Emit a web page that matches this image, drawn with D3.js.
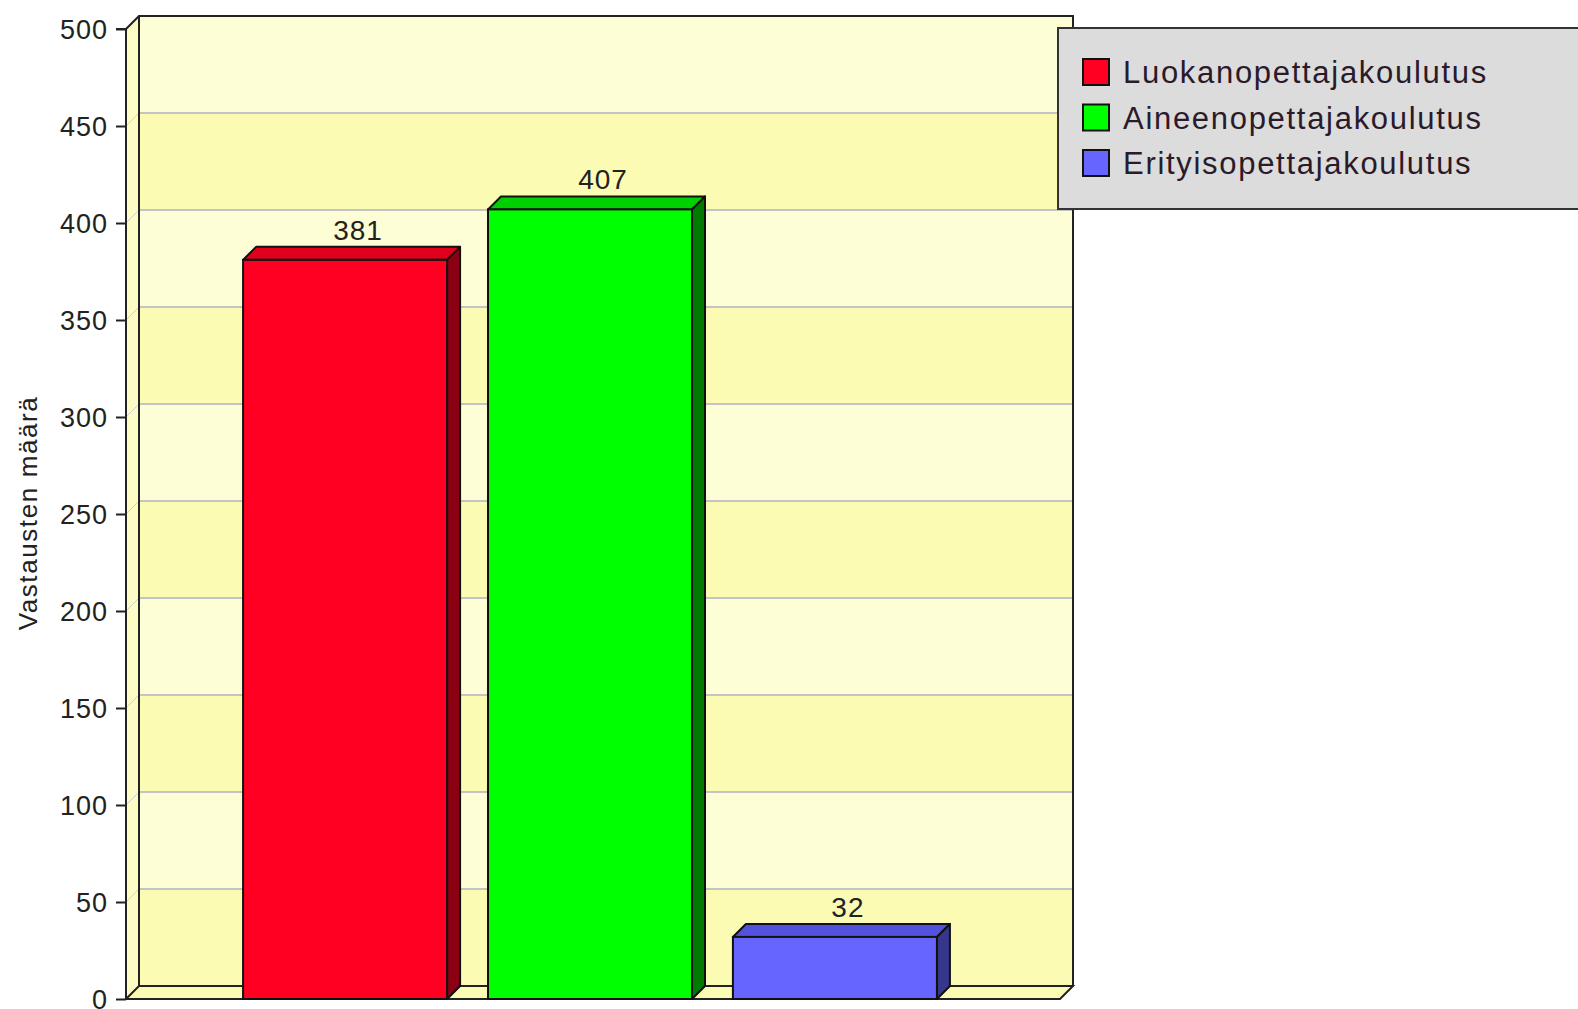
<!DOCTYPE html>
<html>
<head>
<meta charset="utf-8">
<script src="https://cdn.jsdelivr.net/npm/d3@7"></script>
<style>
html,body{margin:0;padding:0;background:#fff;}
svg{display:block;font-family:"Liberation Sans",Arial,sans-serif;}
</style>
</head>
<body>
<svg width="1578" height="1009"></svg>
<script>
(()=>{

//data
let series = ["Luokanopettajakoulutus","Aineenopettajakoulutus","Erityisopettajakoulutus"];
let values = [381, 407, 32];
let ticks = [0,50,100,150,200,250,300,350,400,450,500];
let yTitle = "Vastausten määrä";

//colors: front, top, side
let fronts = ["#ff0022","#00ff00","#6666ff"];
let tops = ["#e0001c","#00d000","#5252dc"];
let sides = ["#8c0014","#007a00","#36368c"];

let svg = d3.select("svg");

//3d depth
let dx = 13, dy = -13;

let y = d3.scaleLinear().domain([0,500]).range([999,29]);
let x = d3.scaleBand().domain(series).range([126,1054]).paddingInner(0.167).paddingOuter(0.478);
let x0 = 126, x1 = 1060;

//left wall
svg.append("path")
	.attr("d", `M${x0},${y(500)}L${x0+dx},${y(500)+dy}L${x0+dx},${y(0)+dy}L${x0},${y(0)}Z`)
	.attr("fill","#fcfcc4");

//back wall bands
let bands = d3.pairs(ticks);
svg.selectAll(".band")
	.data(bands)
	.enter().append("rect")
	.attr("class","band")
	.attr("x", x0+dx)
	.attr("y", d => y(d[1])+dy)
	.attr("width", x1-x0)
	.attr("height", d => y(d[0])-y(d[1]))
	.attr("fill", (d,i) => i%2==0 ? "#fbfbb4" : "#fdfdd6");

//floor
svg.append("path")
	.attr("d", `M${x0},${y(0)}L${x0+dx},${y(0)+dy}L${x1+dx},${y(0)+dy}L${x1},${y(0)}Z`)
	.attr("fill","#fbfbb4")
	.attr("stroke","#222")
	.attr("stroke-width",2);

//gridlines on back wall + diagonal on left wall
svg.selectAll(".grid")
	.data(ticks.slice(1,-1))
	.enter().append("line")
	.attr("class","grid")
	.attr("x1", x0+dx).attr("x2", x1+dx)
	.attr("y1", d => y(d)+dy).attr("y2", d => y(d)+dy)
	.attr("stroke","#c4c4c4").attr("stroke-width",2);
svg.selectAll(".diag")
	.data(ticks.slice(1,-1))
	.enter().append("line")
	.attr("class","diag")
	.attr("x1", x0).attr("x2", x0+dx)
	.attr("y1", d => y(d)).attr("y2", d => y(d)+dy)
	.attr("stroke","#d0d0d0").attr("stroke-width",1);

//wall outlines
svg.append("path")
	.attr("d", `M${x0},${y(500)}L${x0+dx},${y(500)+dy}L${x1+dx},${y(500)+dy}L${x1+dx},${y(0)+dy}`)
	.attr("fill","none").attr("stroke","#222").attr("stroke-width",2);
svg.append("line")
	.attr("x1",x0+dx).attr("x2",x0+dx).attr("y1",y(500)+dy).attr("y2",y(0)+dy)
	.attr("stroke","#222").attr("stroke-width",2);

//y axis
let axis = svg.append("g")
	.attr("transform",`translate(${x0},0)`)
	.call(d3.axisLeft(y).tickValues(ticks).tickSize(10).tickPadding(8));
axis.select(".domain").attr("stroke","#222").attr("stroke-width",2).attr("d",`M-10,${y(500)}H0V${y(0)}H${x1-x0}`);
axis.selectAll(".tick line").attr("stroke","#222").attr("stroke-width",2);
axis.selectAll(".tick text").attr("font-size",27).attr("fill","#222").attr("letter-spacing",1)
	.attr("font-family","'Liberation Sans',Arial,sans-serif").attr("dy","0.34em");

//y title
svg.append("text")
	.attr("transform","translate(37,513) rotate(-90)")
	.attr("text-anchor","middle")
	.attr("font-size",26)
	.attr("letter-spacing",1.6)
	.attr("fill","#222")
	.text(yTitle);

//bars
let bw = x.bandwidth();
let bars = svg.selectAll(".bar")
	.data(values)
	.enter().append("g")
	.attr("class","bar");
bars.append("path")
	.attr("d",(d,i) => {
		let bx = x(series[i]), by = y(d);
		return `M${bx},${by}L${bx+dx},${by+dy}L${bx+bw+dx},${by+dy}L${bx+bw},${by}Z`;
	})
	.attr("fill",(d,i) => tops[i]).attr("stroke","#111").attr("stroke-width",2).attr("stroke-linejoin","round");
bars.append("path")
	.attr("d",(d,i) => {
		let bx = x(series[i])+bw, by = y(d);
		return `M${bx},${by}L${bx+dx},${by+dy}L${bx+dx},${y(0)+dy}L${bx},${y(0)}Z`;
	})
	.attr("fill",(d,i) => sides[i]).attr("stroke","#111").attr("stroke-width",2).attr("stroke-linejoin","round");
bars.append("rect")
	.attr("x",(d,i) => x(series[i]))
	.attr("y",d => y(d))
	.attr("width",bw)
	.attr("height",d => y(0)-y(d))
	.attr("fill",(d,i) => fronts[i]).attr("stroke","#111").attr("stroke-width",2);
bars.append("text")
	.attr("x",(d,i) => x(series[i])+bw/2+dx)
	.attr("y",d => y(d)+dy-7)
	.attr("text-anchor","middle")
	.attr("font-size",28)
	.attr("letter-spacing",1)
	.attr("fill","#222")
	.text(d => d);

//legend
let lg = svg.append("g").attr("transform","translate(1058,28)");
lg.append("rect")
	.attr("width",540).attr("height",181)
	.attr("fill","#dcdcdc").attr("stroke","#333").attr("stroke-width",2);
let items = lg.selectAll(".item")
	.data(series)
	.enter().append("g")
	.attr("class","item")
	.attr("transform",(d,i) => `translate(0,${44+i*45.5})`);
items.append("rect")
	.attr("x",25).attr("y",-13).attr("width",26).attr("height",26)
	.attr("fill",(d,i) => fronts[i]).attr("stroke","#111").attr("stroke-width",2);
items.append("text")
	.attr("x",65).attr("dy","0.36em")
	.attr("font-size",31)
	.attr("letter-spacing",1.7)
	.attr("fill","#2a1a2a")
	.text(d => d);

})();
</script>
</body>
</html>
